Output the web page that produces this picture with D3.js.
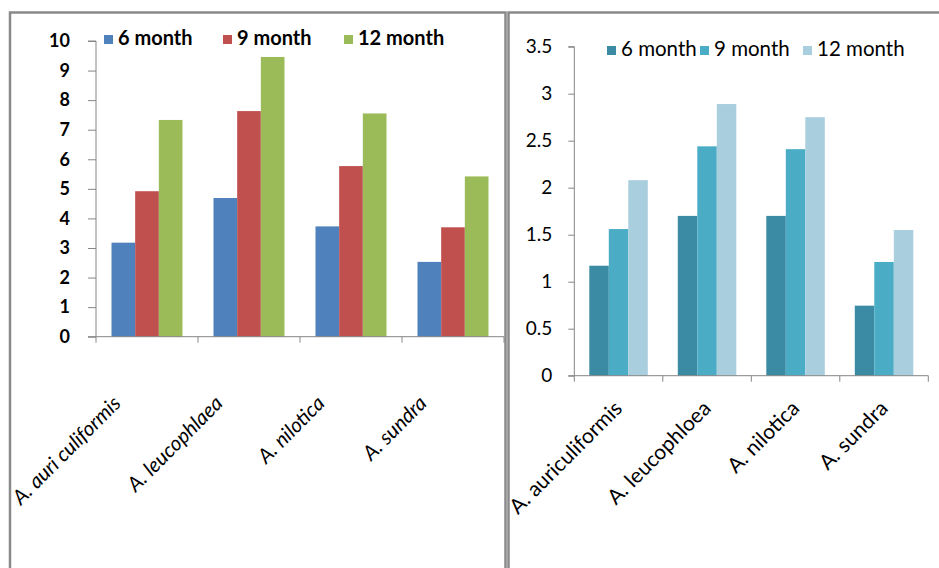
<!DOCTYPE html>
<html>
<head>
<meta charset="utf-8">
<script src="https://cdn.jsdelivr.net/npm/d3@7"></script>
<style>
  html, body { margin: 0; padding: 0; background: #fff; }
  svg { display: block; }
</style>
</head>
<body>
<svg id="chart" width="939" height="568"></svg>
<script>
// ---- Data ----
const seriesNames = ["6 month", "9 month", "12 month"];

const leftCategories = ["A. auri culiformis", "A. leucophlaea", "A. nilotica", "A. sundra"];
const left6 = [3.18, 4.69, 3.73, 2.53];
const left9 = [4.92, 7.63, 5.77, 3.70];
const left12 = [7.33, 9.46, 7.55, 5.42];
const leftTicks = [0, 1, 2, 3, 4, 5, 6, 7, 8, 9, 10];

const rightCategories = ["A. auriculiformis", "A. leucophloea", "A. nilotica", "A. sundra"];
const right6 = [1.17, 1.70, 1.70, 0.745];
const right9 = [1.56, 2.44, 2.41, 1.21];
const right12 = [2.08, 2.89, 2.75, 1.55];
const rightTicks = [0, 0.5, 1, 1.5, 2, 2.5, 3, 3.5];

const leftColors = ["#4F81BD", "#C0504D", "#9BBB59"];
const rightColors = ["#3B8BA4", "#4BACC6", "#A9CFDE"];

const svg = d3.select("#chart");
const FONT = "Lato, 'Open Sans', sans-serif";
const axisColor = "#868686";

// ---- frames ----
svg.append("path").attr("d", "M10,568 V12.5 H505.5 V568")
  .attr("fill", "none").attr("stroke", "#8a8a8a").attr("stroke-width", 2.5);
svg.append("path").attr("d", "M508.5,568 V12.5 H939")
  .attr("fill", "none").attr("stroke", "#8a8a8a").attr("stroke-width", 2.5);

function drawChart(cfg) {
  const g = svg.append("g");
  const y = d3.scaleLinear().domain([0, cfg.yMax]).range([cfg.y0, cfg.yTop]);
  const x = d3.scaleBand().domain(cfg.categories).range([cfg.xLeft, cfg.xRight]).paddingInner(0).paddingOuter(0);
  const bw = x.bandwidth();
  const x1 = d3.scaleBand().domain(seriesNames).range([cfg.groupPad, bw - cfg.groupPad]).paddingInner(0).paddingOuter(0);
  const values = cfg.values;

  // bars
  cfg.categories.forEach((c, i) => {
    seriesNames.forEach((s, j) => {
      const v = values[j][i];
      g.append("rect")
        .attr("x", x(c) + x1(s))
        .attr("y", y(v))
        .attr("width", x1.bandwidth())
        .attr("height", y(0) - y(v))
        .attr("fill", cfg.colors[j]);
    });
  });

  // y axis
  const yAxis = d3.axisLeft(y).tickValues(cfg.ticks).tickSize(cfg.yTickLen).tickPadding(cfg.yTickPad)
    .tickFormat(d => String(d));
  const ya = g.append("g").attr("transform", `translate(${cfg.xLeft},0)`).call(yAxis);
  ya.select(".domain").attr("stroke", axisColor).attr("d", `M${-cfg.yTickLen},${cfg.yTop}H0V${cfg.y0}`);
  ya.selectAll(".tick line").attr("stroke", axisColor);
  ya.selectAll(".tick text").attr("fill", "#000").style("font-family", FONT)
    .style("font-size", cfg.tickFont + "px").style("font-weight", cfg.tickWeight);

  // x axis line + boundary ticks
  const xa = g.append("g");
  xa.append("line").attr("x1", cfg.xLeft - cfg.yTickLen).attr("x2", cfg.xRight)
    .attr("y1", cfg.y0).attr("y2", cfg.y0).attr("stroke", axisColor);
  const bounds = cfg.categories.map(c => x(c)).concat([cfg.xRight]);
  xa.selectAll("line.b").data(bounds).enter().append("line")
    .attr("x1", d => d).attr("x2", d => d)
    .attr("y1", cfg.y0).attr("y2", cfg.y0 + 6).attr("stroke", axisColor);

  // category labels
  g.selectAll("text.cat").data(cfg.categories).enter().append("text")
    .attr("transform", d => `translate(${x(d) + bw / 2 + cfg.labDx},${cfg.y0 + cfg.labDy}) rotate(-45)`)
    .attr("text-anchor", "end")
    .style("font-family", FONT).style("font-size", cfg.catFont + "px")
    .style("font-style", cfg.catItalic ? "italic" : "normal")
    .attr("fill", "#000")
    .text(d => d);

  // legend
  seriesNames.forEach((s, j) => {
    g.append("rect").attr("x", cfg.legendX[j] - cfg.legSq - 5).attr("y", cfg.legY - cfg.legSq - 1)
      .attr("width", cfg.legSq).attr("height", cfg.legSq).attr("fill", cfg.colors[j]);
    g.append("text").attr("x", cfg.legendX[j]).attr("y", cfg.legY)
      .style("font-family", FONT).style("font-size", cfg.legFont + "px")
      .style("font-weight", cfg.legWeight).attr("fill", "#000").text(s);
  });
}

drawChart({
  categories: leftCategories,
  values: [left6, left9, left12],
  colors: leftColors,
  ticks: leftTicks,
  yMax: 10, y0: 336.7, yTop: 41,
  xLeft: 96, xRight: 504, groupPad: 15.5,
  yTickLen: 8, yTickPad: 18, tickFont: 18, tickWeight: "bold",
  labDx: -25, labDy: 68, catFont: 20.5, catItalic: true,
  legendX: [118, 237, 358], legY: 45, legSq: 9, legFont: 20, legWeight: "bold"
});

drawChart({
  categories: rightCategories,
  values: [right6, right9, right12],
  colors: rightColors,
  ticks: rightTicks,
  yMax: 3.5, y0: 375.7, yTop: 46.7,
  xLeft: 574.3, xRight: 928.3, groupPad: 15,
  yTickLen: 6, yTickPad: 16, tickFont: 19, tickWeight: "normal",
  labDx: 5, labDy: 34, catFont: 21, catItalic: false,
  legendX: [621, 714, 817], legY: 56, legSq: 9, legFont: 20.5, legWeight: "normal"
});
</script>
</body>
</html>
